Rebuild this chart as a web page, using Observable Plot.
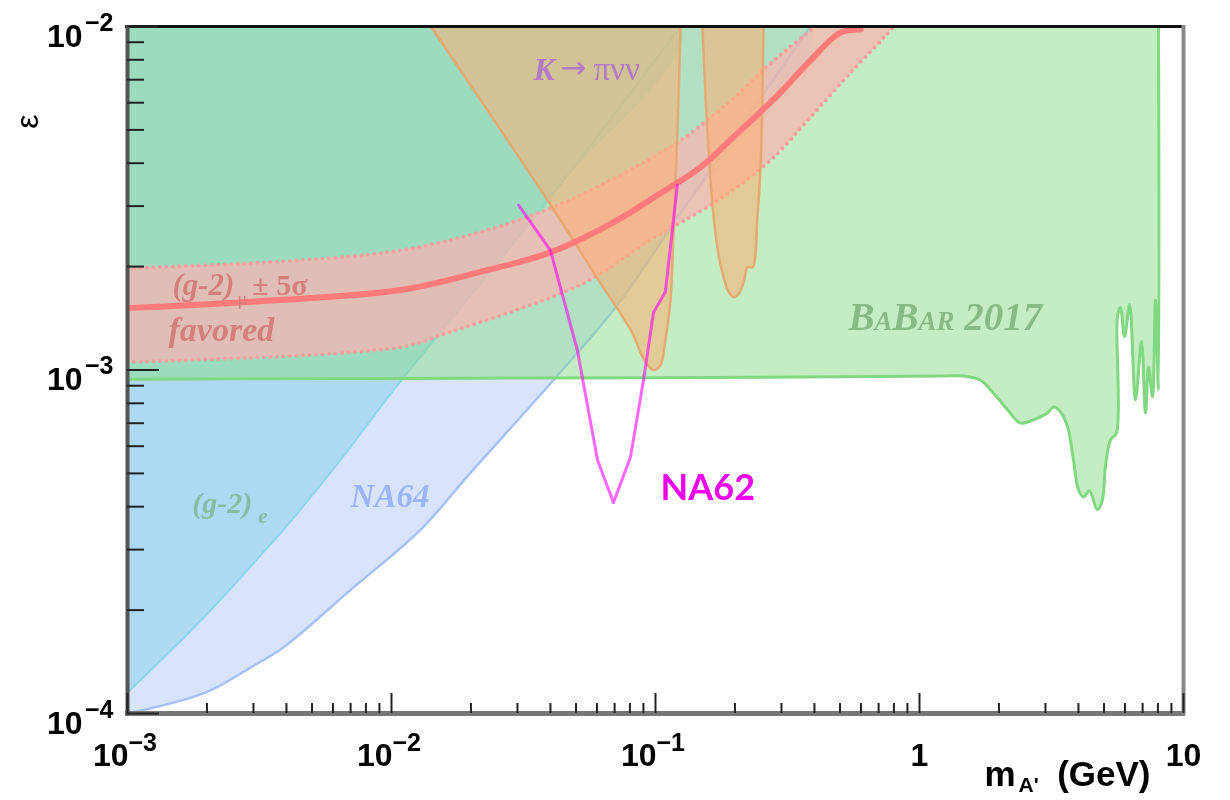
<!DOCTYPE html>
<html>
<head>
<meta charset="utf-8">
<script src="https://cdn.jsdelivr.net/npm/d3@7"></script>
<script src="https://cdn.jsdelivr.net/npm/@observablehq/plot@0.6"></script>
<style>
  html, body { margin: 0; padding: 0; background: #fff; overflow: hidden; }
  #chart svg { display: block; }
  #chart svg .na62-path { mix-blend-mode: multiply; }
</style>
</head>
<body>
<div id="chart"></div>
<script>
// Dark-photon parameter space: kinetic mixing ε versus mass m_A' (GeV).
// Every region is listed as [mass (GeV), epsilon] pairs along its boundary.

// BaBar 2017 exclusion: lower boundary, left to right
const babarEdge = [
  [1e-3, 9.4e-4], [1e-2, 9.45e-4], [0.1, 9.5e-4], [0.5, 9.55e-4], [1.2, 9.6e-4],
  [1.47, 9.6e-4], [1.7, 9.35e-4], [1.905, 8.57e-4], [2.154, 7.66e-4], [2.41, 7.01e-4],
  [2.70, 7.16e-4], [3.05, 7.50e-4], [3.22, 7.80e-4], [3.42, 7.55e-4], [3.64, 6.83e-4],
  [3.83, 5.47e-4], [4.00, 4.48e-4], [4.18, 4.27e-4], [4.40, 4.45e-4], [4.72, 3.92e-4],
  [4.93, 4.19e-4], [5.06, 5.22e-4], [5.29, 6.26e-4], [5.57, 6.56e-4], [5.62, 1.43e-3],
  [5.77, 1.52e-3], [5.98, 1.25e-3], [6.25, 1.55e-3], [6.58, 8.18e-4], [6.93, 1.21e-3],
  [7.18, 7.50e-4], [7.37, 1.02e-3], [7.63, 8.35e-4], [7.83, 1.60e-3], [8.04, 8.75e-4]
];

// (g-2)_e exclusion: boundary, excluded above/left
const g2eEdge = [
  [1e-3, 1.15e-4], [1.94e-3, 1.90e-4], [3.39e-3, 3.04e-4], [3.90e-3, 3.43e-4],
  [6.41e-3, 5.47e-4], [1.02e-2, 8.75e-4], [4.11e-2, 3.27e-3], [0.1245, 1e-2]
];

// NA64 exclusion: boundary, excluded above/left
const na64Edge = [
  [1e-3, 1.0e-4], [1.97e-3, 1.15e-4], [2.92e-3, 1.36e-4], [3.90e-3, 1.56e-4],
  [7.0e-3, 2.29e-4], [1.29e-2, 3.43e-4], [1.99e-2, 5.02e-4], [4.11e-2, 9.35e-4],
  [7.05e-2, 1.52e-3], [0.1245, 2.86e-3], [0.386, 1e-2]
];

// (g-2)_mu favoured band: upper edge, central value, lower edge
const bandUpper = [
  [1e-3, 1.98e-3], [1.08e-2, 2.23e-3], [3.57e-2, 2.86e-3], [7.18e-2, 3.66e-3],
  [0.1245, 4.67e-3], [0.1875, 5.97e-3], [0.2727, 7.81e-3], [0.386, 9.73e-3], [0.4036, 1e-2]
];
const bandCentral = [
  [1e-3, 1.514e-3], [2.92e-3, 1.58e-3], [1.08e-2, 1.71e-3], [2.17e-2, 1.93e-3],
  [4.0e-2, 2.20e-3], [6.93e-2, 2.69e-3], [0.1045, 3.27e-3], [0.148, 3.89e-3],
  [0.197, 4.76e-3], [0.290, 6.30e-3], [0.386, 7.96e-3], [0.502, 9.6e-3], [0.598, 9.8e-3]
];
const bandLower = [
  [1e-3, 1.055e-3], [1.08e-2, 1.166e-3], [1.67e-2, 1.29e-3], [5.34e-2, 1.79e-3],
  [9.57e-2, 2.39e-3], [0.172, 3.12e-3], [0.2727, 4.08e-3], [0.386, 5.44e-3],
  [0.562, 7.50e-3], [0.776, 9.73e-3], [0.798, 1e-2]
];

// K -> pi nu nu exclusion: two lobes hanging from the top
const kaonLobeA = [
  [1.41e-2, 1e-2], [3.90e-2, 3.12e-3], [6.19e-2, 1.79e-3], [8.04e-2, 1.31e-3],
  [9.16e-2, 1.055e-3], [9.83e-2, 1.0e-3], [0.1045, 1.034e-3], [0.109, 1.22e-3],
  [0.114, 1.60e-3], [0.117, 2.50e-3], [0.121, 4.89e-3], [0.1245, 1e-2]
];
const kaonLobeB = [
  [0.1506, 1e-2], [0.1574, 4.89e-3], [0.166, 2.79e-3], [0.1734, 2.16e-3], [0.181, 1.86e-3],
  [0.189, 1.69e-3], [0.1975, 1.63e-3], [0.206, 1.66e-3], [0.2154, 1.79e-3], [0.223, 1.99e-3],
  [0.233, 1.99e-3], [0.2433, 2.79e-3], [0.250, 3.89e-3], [0.254, 6.10e-3], [0.2563, 1e-2]
];

// NA62 projected sensitivity curve
const na62Curve = [
  [3.03e-2, 3.02e-3], [4.0e-2, 2.23e-3], [5.06e-2, 1.14e-3], [6.03e-2, 5.47e-4],
  [6.93e-2, 4.11e-4], [8.04e-2, 5.58e-4], [9.01e-2, 9.35e-4], [9.83e-2, 1.47e-3],
  [0.109, 1.69e-3], [0.121, 3.45e-3]
];

// Axis ticks and labels
const yTickValues = [1e-2, 1e-3, 1e-4];
const yTickExponents = ["\u22122", "\u22123", "\u22124"];
const xTickValues = [1e-3, 1e-2, 1e-1, 1, 10];
const xTickBases = ["10", "10", "10", "1", "10"];
const xTickExponents = ["\u22123", "\u22122", "\u22121", "", ""];

const xDomain = [1e-3, 10];
const yDomain = [1e-4, 1e-2];
const isDecade = v => Math.abs(Math.log10(v) - Math.round(Math.log10(v))) < 1e-9;
const xAllTicks = d3.scaleLog().domain(xDomain).ticks();
const yAllTicks = d3.scaleLog().domain(yDomain).ticks();
const xMinor = xAllTicks.filter(v => !isDecade(v));
const xMajor = xAllTicks.filter(v => isDecade(v));
const yMinor = yAllTicks.filter(v => !isDecade(v));
const yMajor = yAllTicks.filter(v => isDecade(v));

// Layout
const W = 1230, H = 800;
const mL = 127, mR = 47, mT = 26, mB = 87;
const frameW = W - mL - mR, frameH = H - mT - mB;
const yTop = yDomain[1];

const X = d => d[0], Y = d => d[1];
// Close a boundary against the top of the frame
function closeToTop(edge) {
  const out = edge.slice();
  const last = edge[edge.length - 1], first = edge[0];
  if (last[1] < yTop) out.push([last[0], yTop]);
  out.push([first[0], yTop]);
  return out;
}
const bandPolygon = bandUpper.concat(bandLower.slice().reverse());

const serif = "'Liberation Serif', 'Times New Roman', serif";
const sans = "'Liberation Sans', Arial, Helvetica, sans-serif";
const lbl = (x, y, t) => [{x, y, t}];
const expIdx = xTickValues.map((v, i) => i).filter(i => xTickExponents[i]);
const plainIdx = xTickValues.map((v, i) => i).filter(i => !xTickExponents[i]);

const chart = Plot.plot({
  width: W, height: H,
  marginLeft: mL, marginRight: mR, marginTop: mT, marginBottom: mB,
  x: {type: "log", domain: xDomain, axis: null},
  y: {type: "log", domain: yDomain, axis: null},
  style: {background: "#fff", overflow: "visible"},
  marks: [
    // filled exclusion regions
    Plot.line(closeToTop(na64Edge), {x: X, y: Y, fill: "#D8E4FC", stroke: "none", curve: "catmull-rom", clip: true}),
    Plot.line(closeToTop(g2eEdge), {x: X, y: Y, fill: "#ADDAF2", stroke: "none", curve: "catmull-rom", clip: true}),
    Plot.line(na64Edge, {x: X, y: Y, stroke: "#A6C1F7", strokeWidth: 2.5, curve: "catmull-rom", clip: true}),
    Plot.line(g2eEdge, {x: X, y: Y, stroke: "#8CD5EE", strokeWidth: 2, curve: "catmull-rom", clip: true}),
    Plot.areaY(babarEdge, {x: X, y1: Y, y2: () => yTop, fill: "#89DB89", fillOpacity: 0.5, curve: "catmull-rom", clip: true}),
    Plot.line(babarEdge.concat([[babarEdge[babarEdge.length - 1][0], yTop]]), {x: X, y: Y, stroke: "#80D880", strokeWidth: 3, curve: "catmull-rom", clip: true}),

    // (g-2)_mu band
    Plot.line(bandPolygon, {x: X, y: Y, fill: "#FDB2B1", fillOpacity: 0.7, stroke: "none", curve: "catmull-rom", clip: true}),
    Plot.line(bandUpper, {x: X, y: Y, stroke: "#FF9E9E", strokeWidth: 4, strokeDasharray: "0 6.5", strokeLinecap: "round", curve: "catmull-rom", clip: true}),
    Plot.line(bandLower, {x: X, y: Y, stroke: "#FF9E9E", strokeWidth: 4, strokeDasharray: "0 6.5", strokeLinecap: "round", curve: "catmull-rom", clip: true}),

    // K -> pi nu nu lobes
    Plot.line(kaonLobeA, {x: X, y: Y, fill: "#FEAF73", fillOpacity: 0.55, stroke: "#E9A46B", strokeOpacity: 0.9, strokeWidth: 2.5, curve: "catmull-rom", clip: true}),
    Plot.line(kaonLobeB, {x: X, y: Y, fill: "#FEAF73", fillOpacity: 0.55, stroke: "#E9A46B", strokeOpacity: 0.9, strokeWidth: 2.5, curve: "catmull-rom", clip: true}),

    // central (g-2)_mu value
    Plot.line(bandCentral, {x: X, y: Y, stroke: "#FF7B7B", strokeWidth: 6, curve: "catmull-rom", clip: true}),

    // NA62
    Plot.line(na62Curve, {x: X, y: Y, stroke: "#fe01fe", strokeOpacity: 0.6, strokeWidth: 3, mixBlendMode: "multiply", clip: true}),

    // region labels
    Plot.text(lbl(3.45e-2, 6.97e-3, "K"), {x: "x", y: "y", text: "t", textAnchor: "start", lineAnchor: "bottom", fontFamily: serif, fontStyle: "italic", fontWeight: "bold", fontSize: 32, fill: "#B47AC8"}),
    Plot.text(lbl(4.36e-2, 7.1e-3, "\u2192"), {x: "x", y: "y", text: "t", textAnchor: "start", lineAnchor: "bottom", fontFamily: "'DejaVu Sans', sans-serif", fontSize: 31, fill: "#B47AC8"}),
    Plot.text(lbl(5.82e-2, 6.97e-3, "\u03C0\u03BD\u03BD"), {x: "x", y: "y", text: "t", textAnchor: "start", lineAnchor: "bottom", fontFamily: serif, fontSize: 33, fill: "#B47AC8"}),
    Plot.text(lbl(1.48e-3, 1.65e-3, "(g-2)"), {x: "x", y: "y", text: "t", textAnchor: "start", lineAnchor: "bottom", fontFamily: serif, fontStyle: "italic", fontWeight: "bold", fontSize: 31, fill: "#D47E7E"}),
    Plot.text(lbl(2.61e-3, 1.545e-3, "\u03BC"), {x: "x", y: "y", text: "t", textAnchor: "start", lineAnchor: "bottom", fontFamily: serif, fontSize: 18, fill: "#D47E7E"}),
    Plot.text(lbl(2.97e-3, 1.65e-3, "\u00B1 5\u03C3"), {x: "x", y: "y", text: "t", textAnchor: "start", lineAnchor: "bottom", fontFamily: serif, fontWeight: "bold", fontSize: 30, fill: "#D47E7E"}),
    Plot.text(lbl(1.43e-3, 1.214e-3, "favored"), {x: "x", y: "y", text: "t", textAnchor: "start", lineAnchor: "bottom", fontFamily: serif, fontStyle: "italic", fontWeight: "bold", fontSize: 34, fill: "#D47E7E"}),
    Plot.text(lbl(1.76e-3, 3.84e-4, "(g-2)"), {x: "x", y: "y", text: "t", textAnchor: "start", lineAnchor: "bottom", fontFamily: serif, fontStyle: "italic", fontWeight: "bold", fontSize: 30, fill: "#88BBA4"}),
    Plot.text(lbl(3.13e-3, 3.59e-4, "e"), {x: "x", y: "y", text: "t", textAnchor: "start", lineAnchor: "bottom", fontFamily: serif, fontStyle: "italic", fontWeight: "bold", fontSize: 21, fill: "#88BBA4"}),
    Plot.text(lbl(7.0e-3, 4.0e-4, "NA64"), {x: "x", y: "y", text: "t", textAnchor: "start", lineAnchor: "bottom", fontFamily: serif, fontStyle: "italic", fontWeight: "bold", fontSize: 33, fill: "#9BB4FA"}),
    Plot.text(lbl(0.1045, 4.19e-4, "NA62"), {x: "x", y: "y", text: "t", textAnchor: "start", lineAnchor: "bottom", fontFamily: "Lato, 'Open Sans', sans-serif", fontWeight: "bold", fontSize: 36, fill: "#EE00EE"}),
    Plot.text(lbl(0.538, 1.306e-3, "BaBar 2017"), {x: "x", y: "y", text: "t", textAnchor: "start", lineAnchor: "bottom", fontFamily: serif, fontStyle: "italic", fontWeight: "bold", fontVariant: "small-caps", fontSize: 39, fill: "#88BA88"}),

    // frame
    Plot.ruleY([yDomain[0]], {stroke: "#777", strokeWidth: 5, insetLeft: -2, insetRight: -2}),
    Plot.ruleY([yDomain[1]], {stroke: "#111", strokeWidth: 3, insetLeft: -2, insetRight: -2}),
    Plot.ruleX([xDomain[0]], {stroke: "#555", strokeWidth: 4, insetTop: -1, insetBottom: -2}),
    Plot.ruleX([xDomain[1]], {stroke: "#888", strokeWidth: 4, insetTop: -1, insetBottom: -2}),

    // inward ticks
    Plot.tickX(xMinor, {x: d => d, insetTop: frameH - 10, stroke: "#222", strokeWidth: 2}),
    Plot.tickX(xMajor, {x: d => d, insetTop: frameH - 20, stroke: "#222", strokeWidth: 2}),
    Plot.tickY(yMinor, {y: d => d, insetRight: frameW - 17, stroke: "#222", strokeWidth: 2}),
    Plot.tickY(yMajor, {y: d => d, insetRight: frameW - 32, stroke: "#222", strokeWidth: 2}),

    // y tick labels
    Plot.text(yTickValues, {y: d => d, text: () => "10", frameAnchor: "left", textAnchor: "end", lineAnchor: "bottom", dx: -45, dy: 20, fontFamily: sans, fontWeight: "bold", fontSize: 32, fill: "#000"}),
    Plot.text(yTickValues, {y: d => d, text: (d, i) => yTickExponents[i], frameAnchor: "left", textAnchor: "end", lineAnchor: "bottom", dx: -14, dy: 4, fontFamily: sans, fontWeight: "bold", fontSize: 25, fill: "#000"}),

    // x tick labels
    Plot.text(expIdx, {x: i => xTickValues[i], text: i => xTickBases[i], frameAnchor: "bottom", textAnchor: "end", lineAnchor: "bottom", dx: 1, dy: 52, fontFamily: sans, fontWeight: "bold", fontSize: 32, fill: "#000"}),
    Plot.text(expIdx, {x: i => xTickValues[i], text: i => xTickExponents[i], frameAnchor: "bottom", textAnchor: "start", lineAnchor: "bottom", dx: 1, dy: 37, fontFamily: sans, fontWeight: "bold", fontSize: 25, fill: "#000"}),
    Plot.text(plainIdx, {x: i => xTickValues[i], text: i => xTickBases[i], frameAnchor: "bottom", textAnchor: "middle", lineAnchor: "bottom", dy: 52, fontFamily: sans, fontWeight: "bold", fontSize: 32, fill: "#000"}),

    // axis titles
    Plot.text(["\u03B5"], {text: d => d, frameAnchor: "top-left", dx: -100, dy: 95, rotate: -90, textAnchor: "middle", lineAnchor: "middle", fontFamily: sans, fontSize: 32, fill: "#000"}),
    Plot.text(["m"], {text: d => d, frameAnchor: "bottom-right", textAnchor: "start", lineAnchor: "bottom", dx: -199, dy: 72, fontFamily: sans, fontWeight: "bold", fontSize: 35, fill: "#000"}),
    Plot.text(["A'"], {text: d => d, frameAnchor: "bottom-right", textAnchor: "start", lineAnchor: "bottom", dx: -165, dy: 78, fontFamily: sans, fontWeight: "bold", fontSize: 21, fill: "#000"}),
    Plot.text(["(GeV)"], {text: d => d, frameAnchor: "bottom-right", textAnchor: "end", lineAnchor: "bottom", dx: -33, dy: 72, fontFamily: sans, fontWeight: "bold", fontSize: 35, fill: "#000"})
  ]
});

document.getElementById("chart").appendChild(chart);
// NA62 darkens whatever lies underneath it: blend its group and path with the layers below
chart.querySelectorAll('[stroke="#fe01fe"]').forEach(el => {
  el.style.mixBlendMode = "multiply";
  el.querySelectorAll("path").forEach(p => p.classList.add("na62-path"));
});
</script>
</body>
</html>
